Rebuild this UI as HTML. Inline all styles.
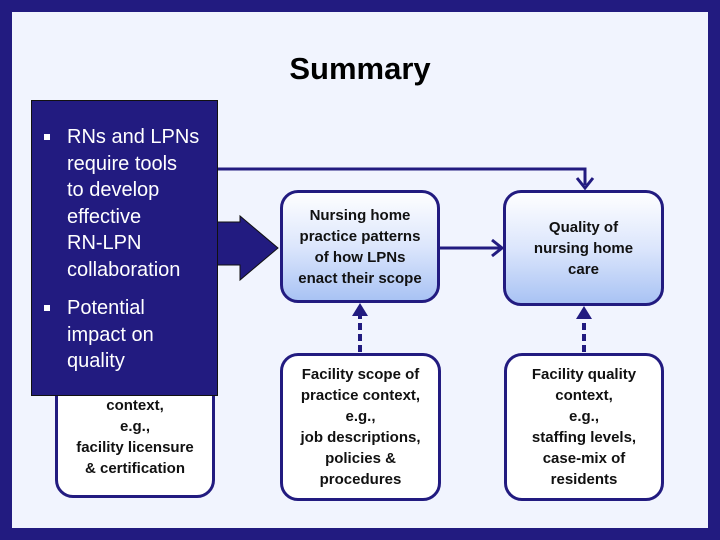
<!DOCTYPE html>
<html><head><style>
body{margin:0;width:720px;height:540px;overflow:hidden;font-family:"Liberation Sans",sans-serif}
.bg{position:absolute;left:0;top:0;width:720px;height:540px;background:#221b80}
.in{position:absolute;left:12px;top:12px;width:696px;height:516px;background:#f1f4fe}
.t{position:absolute;left:0;width:720px;top:51px;text-align:center;font-size:31px;font-weight:bold;color:#000}
.box{position:absolute;border:3px solid #221b80;border-radius:18px;box-sizing:border-box;display:flex;align-items:center;justify-content:center;text-align:center;font-size:15px;font-weight:bold;line-height:21px;color:#111;background:#fff;white-space:nowrap}
.g{background:linear-gradient(#fefeff 0%,#dce6fc 50%,#a9c3f4 100%)}
.dark{position:absolute;left:31px;top:100px;width:187px;height:296px;background:#221b80;border:1px solid #111;box-sizing:border-box;color:#fff;font-size:20px;line-height:26.5px;white-space:nowrap}
.dark ul{margin:0;padding:0;list-style:none}
.dark li{position:relative;padding-left:35px}
.dark li:before{content:"";position:absolute;left:12px;top:10px;width:6px;height:6px;background:#fff}
</style></head><body>
<div class="bg"></div><div class="in"></div>
<div class="t">Summary</div>
<div class="box" style="left:55px;top:330px;width:160px;height:168px;align-items:flex-end;padding-bottom:16px">context,<br>e.g.,<br>facility licensure<br>&amp; certification</div>
<div class="box g" style="left:280px;top:190px;width:160px;height:113px">Nursing home<br>practice patterns<br>of how LPNs<br>enact their scope</div>
<div class="box g" style="left:503px;top:190px;width:161px;height:116px">Quality of<br>nursing home<br>care</div>
<div class="box" style="left:280px;top:353px;width:161px;height:148px">Facility scope of<br>practice context,<br>e.g.,<br>job descriptions,<br>policies &amp;<br>procedures</div>
<div class="box" style="left:504px;top:353px;width:160px;height:148px">Facility quality<br>context,<br>e.g.,<br>staffing levels,<br>case-mix of<br>residents</div>
<svg style="position:absolute;left:0;top:0" width="720" height="540">
<polyline points="218,169 585,169 585,185" fill="none" stroke="#221b80" stroke-width="3"/>
<polyline points="577,178 585,188 593,178" fill="none" stroke="#221b80" stroke-width="3"/>
<polygon points="217,222 240,222 240,216 278,248 240,280 240,265 217,265" fill="#221b80" stroke="#111" stroke-width="1"/>
<line x1="440" y1="248" x2="500" y2="248" stroke="#221b80" stroke-width="3"/>
<polyline points="492,240 502,248 492,256" fill="none" stroke="#221b80" stroke-width="3"/>
<line x1="360" y1="352" x2="360" y2="310" stroke="#221b80" stroke-width="4" stroke-dasharray="7,4"/>
<polygon points="352,316 360,303 368,316" fill="#221b80"/>
<line x1="584" y1="352" x2="584" y2="313" stroke="#221b80" stroke-width="4" stroke-dasharray="7,4"/>
<polygon points="576,319 584,306 592,319" fill="#221b80"/>
</svg>
<div class="dark"><ul style="margin-top:23px">
<li>RNs and LPNs<br>require tools<br>to develop<br>effective<br>RN-LPN<br>collaboration</li>
<li style="margin-top:12px">Potential<br>impact on<br>quality</li></ul></div>
</body></html>
